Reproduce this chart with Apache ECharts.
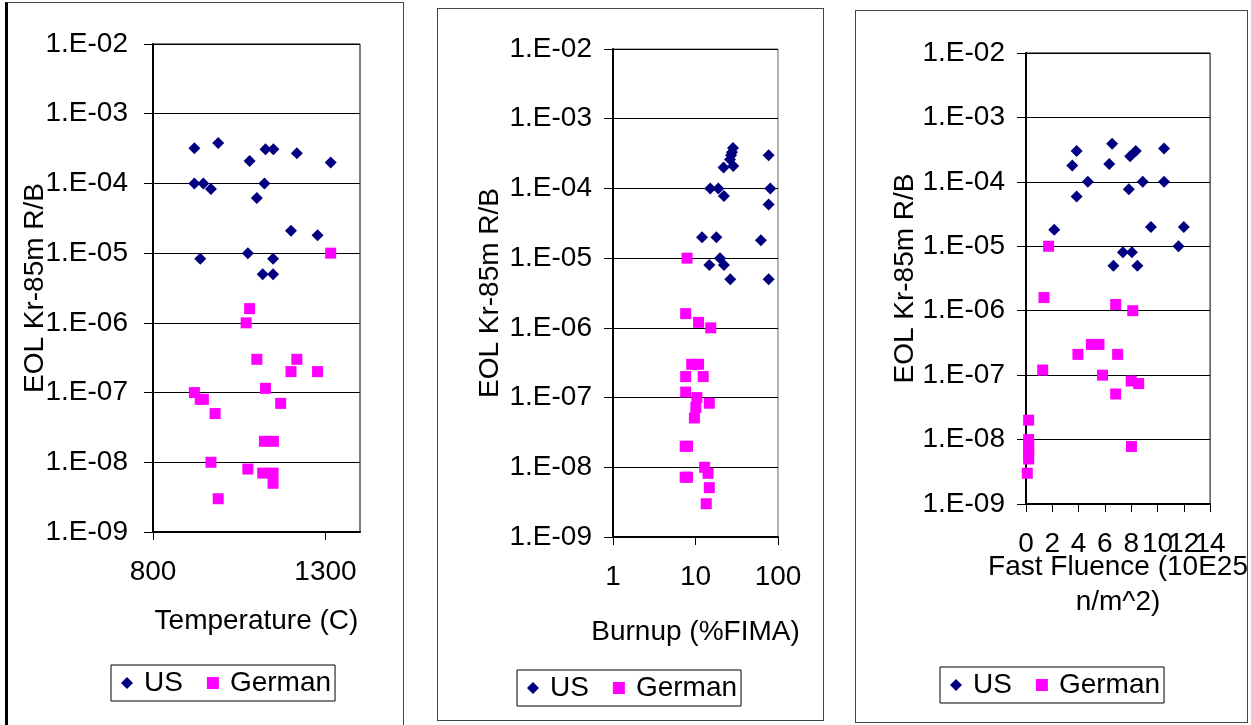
<!DOCTYPE html>
<html>
<head>
<meta charset="utf-8">
<script src="https://cdn.jsdelivr.net/npm/echarts@6/dist/echarts.min.js"></script>
<style>
  html, body { margin: 0; padding: 0; background: #fff; }
  #wrap { position: relative; width: 1251px; height: 725px; overflow: hidden; }
  .frame { position: absolute; box-sizing: border-box; border: 1px solid #444; }
  #chart { position: absolute; left: 0; top: 0; width: 1251px; height: 725px; }
</style>
</head>
<body>
<div id="wrap">
  <div class="frame" style="left:5px;top:2px;width:399px;height:730px;border-left:3px solid #000;"></div>
  <div class="frame" style="left:437px;top:8px;width:387px;height:713px;"></div>
  <div class="frame" style="left:855px;top:10px;width:393px;height:713px;"></div>
  <div id="chart"></div>
</div>
<script>
// tick labels
const Y_TICKS = ['1.E-09', '1.E-08', '1.E-07', '1.E-06', '1.E-05', '1.E-04', '1.E-03', '1.E-02'];
const TEMP_TICKS = [800, 1300];
const FLUENCE_TICKS = [0, 2, 4, 6, 8, 10, 12, 14];

// [temperature C, EOL Kr-85m R/B]
const usTemp = [
  [920, 3.2e-4], [989, 3.8e-4], [1080, 2.1e-4], [1126, 3.1e-4], [1149, 3.1e-4], [1217, 2.7e-4],
  [1315, 2.0e-4], [920, 1e-4], [946, 1e-4], [968, 8.3e-5], [1123, 1e-4], [1101, 6.2e-5],
  [1200, 2.1e-5], [1277, 1.8e-5], [937, 8.3e-6], [1075, 1e-5], [1148, 8.3e-6], [1118, 5e-6], [1148, 5e-6]
];
const germanTemp = [
  [1315, 1e-5], [1080, 1.6e-6], [1070, 1e-6], [1101, 3e-7], [1217, 3e-7], [1200, 2e-7], [1277, 2e-7],
  [1126, 1.15e-7], [920, 1e-7], [937, 8e-8], [946, 8e-8], [980, 5e-8], [1170, 7e-8], [1123, 2e-8],
  [1149, 2e-8], [968, 1e-8], [1075, 8e-9], [1118, 7e-9], [1148, 7e-9], [1148, 5e-9], [989, 3e-9]
];

// [burnup %FIMA, EOL Kr-85m R/B]
const usBurnup = [
  [28.5, 3.8e-4], [27.7, 3.3e-4], [27, 3e-4], [26.2, 2.6e-4], [28.7, 2.1e-4], [21.9, 2e-4], [77, 3e-4],
  [15.1, 1e-4], [18.9, 1e-4], [22.1, 7.8e-5], [80.7, 1e-4], [77, 5.9e-5], [12, 2e-5], [17.9, 2e-5],
  [62, 1.8e-5], [19.8, 1e-5], [14.7, 8e-6], [22.1, 8e-6], [26.4, 5e-6], [77, 5e-6]
];
const germanBurnup = [
  [7.9, 1e-5], [7.6, 1.6e-6], [10.9, 1.2e-6], [15.3, 1e-6], [9, 3e-7], [10.9, 3e-7], [7.6, 2e-7],
  [12.4, 2e-7], [7.6, 1.2e-7], [10.4, 1e-7], [14.7, 8.3e-8], [10.1, 7.2e-8], [9.7, 5.1e-8],
  [7.5, 2e-8], [8.0, 2e-8], [12.9, 1e-8], [14.2, 8.2e-9], [7.5, 7.2e-9], [8.0, 7.2e-9], [14.7, 5.1e-9], [13.5, 3e-9]
];

// [fast fluence 10E25 n/m^2, EOL Kr-85m R/B]
const usFluence = [
  [6.55, 3.9e-4], [3.85, 3e-4], [3.52, 1.8e-4], [6.33, 1.9e-4], [7.92, 2.5e-4], [8.35, 3e-4],
  [10.5, 3.3e-4], [4.7, 1e-4], [3.85, 5.9e-5], [7.82, 7.7e-5], [8.88, 1e-4], [10.5, 1e-4],
  [2.15, 1.8e-5], [9.5, 2e-5], [12, 2e-5], [11.6, 1e-5], [7.37, 8.1e-6], [8.05, 8.1e-6], [6.65, 5e-6], [8.47, 5e-6]
];
const germanFluence = [
  [1.72, 1e-5], [1.37, 1.6e-6], [6.82, 1.25e-6], [8.12, 1e-6], [4.97, 3e-7], [5.55, 3e-7], [3.95, 2.1e-7],
  [6.97, 2.1e-7], [1.27, 1.2e-7], [5.82, 1e-7], [8.0, 8.1e-8], [8.57, 7.4e-8], [6.82, 5.1e-8],
  [0.2, 2e-8], [0.2, 1e-8], [0.2, 8e-9], [0.2, 7e-9], [0.2, 6e-9], [0.2, 5e-9], [0.1, 3e-9], [8.02, 7.8e-9]
];

const FONT = 'Liberation Sans, Arial, sans-serif';
const US_COLOR = '#000080';
const DE_COLOR = '#FF00FF';
const Y_NAME = 'EOL Kr-85m R/B';

// ECharts drops a label that collides with its neighbour at the end of the axis;
// the "12" is crowded in the original, so it goes on a second, bare axis.
const CROWDED_TICK = 12;
const fluenceMain = FLUENCE_TICKS.filter((v) => v !== CROWDED_TICK);

function yLabel(v) {
  return Y_TICKS[Math.round(Math.log10(v)) + 9] || '';
}

function makeYAxis(gridIndex, nameGap, labelMargin) {
  return {
    gridIndex, type: 'log', logBase: 10, min: 1e-9, max: 1e-2,
    name: Y_NAME, nameLocation: 'middle', nameRotate: 90, nameGap,
    nameMoveOverlap: false,
    nameTextStyle: { fontSize: 28, fontFamily: FONT, color: '#000' },
    axisLine: { show: true, lineStyle: { color: '#000', width: 2 } },
    axisTick: { show: true, inside: false, length: 9, lineStyle: { color: '#000' } },
    axisLabel: { fontSize: 28, fontFamily: FONT, color: '#000', margin: labelMargin, formatter: yLabel },
    splitLine: { show: true, lineStyle: { color: '#000', width: 1 } },
    minorTick: { show: false }
  };
}

const baseX = {
  position: 'bottom',
  axisLine: { show: true, onZero: false, lineStyle: { color: '#000', width: 2 } },
  axisTick: { show: true, inside: false, length: 8, lineStyle: { color: '#000' } },
  splitLine: { show: false },
  nameLocation: 'middle',
  nameMoveOverlap: false,
  nameTextStyle: { fontSize: 28, fontFamily: FONT, color: '#000' }
};
const xLabelStyle = {
  fontSize: 28, fontFamily: FONT, color: '#000', margin: 26,
  showMinLabel: true, showMaxLabel: true,
  formatter: (v) => String(v)
};

function scatter(name, data, idx) {
  const us = name === 'US';
  return {
    name, type: 'scatter', data, xAxisIndex: idx, yAxisIndex: idx,
    symbol: us ? 'diamond' : 'rect',
    symbolSize: us ? 12 : 11,
    itemStyle: { color: us ? US_COLOR : DE_COLOR, opacity: 1 },
    silent: true
  };
}

function legendAt(left, top) {
  return {
    left, top, orient: 'horizontal',
    data: [{ name: 'US', icon: 'diamond' }, { name: 'German', icon: 'rect' }],
    itemWidth: 12, itemHeight: 12, itemGap: 24,
    borderColor: '#000', borderWidth: 1, padding: [4, 4, 4, 10],
    textStyle: { fontSize: 28, fontFamily: FONT, color: '#000', padding: [0, 0, 0, 6] },
    selectedMode: false
  };
}

const chart = echarts.init(document.getElementById('chart'), null, { renderer: 'canvas' });
chart.setOption({
  animation: false,
  backgroundColor: 'transparent',
  grid: [
    { left: 153, top: 44, width: 207, height: 488, show: true, borderColor: '#000', borderWidth: 1, backgroundColor: '#fff' },
    { left: 613, top: 49, width: 165, height: 488, show: true, borderColor: '#666', borderWidth: 1, backgroundColor: '#fff' },
    { left: 1026, top: 53, width: 187, height: 451, show: true, borderColor: '#000', borderWidth: 1, backgroundColor: '#fff' }
  ],
  xAxis: [
    Object.assign({}, baseX, {
      gridIndex: 0, type: 'value', min: 800, max: 1400,
      name: 'Temperature (C)', nameGap: 75,
      axisTick: Object.assign({}, baseX.axisTick, { customValues: TEMP_TICKS }),
      axisLabel: Object.assign({}, xLabelStyle, { customValues: TEMP_TICKS, showMaxLabel: null })
    }),
    Object.assign({}, baseX, {
      gridIndex: 1, type: 'log', logBase: 10, min: 1, max: 100,
      name: 'Burnup (%FIMA)', nameGap: 81,
      minorTick: { show: false },
      axisLabel: xLabelStyle
    }),
    Object.assign({}, baseX, {
      gridIndex: 2, type: 'value', min: 0, max: 14, interval: 2,
      name: 'Fast Fluence (10E25\nn/m^2)', nameGap: 46,
      nameTextStyle: { fontSize: 28, fontFamily: FONT, color: '#000', lineHeight: 35 },
      axisTick: Object.assign({}, baseX.axisTick, { customValues: FLUENCE_TICKS }),
      axisLabel: Object.assign({}, xLabelStyle, { customValues: fluenceMain })
    }),
    {
      gridIndex: 2, type: 'value', min: 0, max: 14, position: 'bottom',
      axisLine: { show: false }, axisTick: { show: false }, splitLine: { show: false },
      axisLabel: Object.assign({}, xLabelStyle, { customValues: [CROWDED_TICK] })
    }
  ],
  yAxis: [
    makeYAxis(0, 104, 25),
    makeYAxis(1, 109, 21),
    makeYAxis(2, 107, 21)
  ],
  legend: [legendAt(111, 665), legendAt(517, 670), legendAt(940, 667)],
  series: [
    scatter('US', usTemp, 0),
    scatter('German', germanTemp, 0),
    scatter('US', usBurnup, 1),
    scatter('German', germanBurnup, 1),
    scatter('US', usFluence, 2),
    scatter('German', germanFluence, 2)
  ]
});
</script>
</body>
</html>
